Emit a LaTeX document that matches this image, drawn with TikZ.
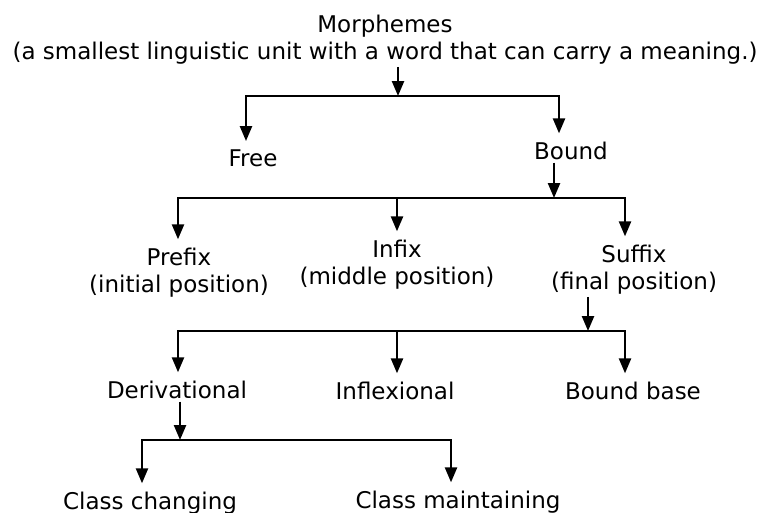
\documentclass[tikz,border=0pt]{standalone}
\usepackage{fontspec}
\setmainfont{DejaVu Sans}
\usetikzlibrary{arrows.meta}

\begin{document}
\begin{tikzpicture}[x=1pt,y=-1pt,line width=2.4pt,
	arr/.style={-{Triangle[length=15pt,width=12pt]}},
	down/.style={arr,shorten >=7pt},
	up/.style={arr,shorten <=2pt},
	lbl/.style={inner sep=0pt,anchor=base,align=center,font=\fontsize{23}{27}\selectfont}
]
	\useasboundingbox (0,0) rectangle (762,512);

	% multi-line labels sit on their last line
	\node[lbl] (morph) at (385,59) {Morphemes\\(a smallest linguistic unit with a word that can carry a meaning.)};
	\node[lbl] (free) at (253,166) {Free};
	\node[lbl] (bound) at (571,159) {Bound};
	\node[lbl] (prefix) at (179,292) {Prefix\\(initial position)};
	\node[lbl] (infix) at (397,284) {Infix\\(middle position)};
	\node[lbl] (suffix) at (634,289) {Suffix\\(final position)};
	\node[lbl] (deriv) at (177,398) {Derivational};
	\node[lbl] (inflex) at (395,399) {Inflexional};
	\node[lbl] (bbase) at (633,399) {Bound base};
	\node[lbl] (change) at (150,509) {Class changing};
	\node[lbl] (keep) at (458,508) {Class maintaining};

	% branch points
	\coordinate (j1) at (398,96);
	\coordinate (j2) at (554,198);
	\coordinate (j3) at (588,331);
	\coordinate (j4) at (180,440);

	\draw[up] (j1 |- morph.south) -- (j1);
	\draw[up] (j2 |- bound.south) -- (j2);
	\draw[up] (j3 |- suffix.south) -- (j3);
	\draw[up] (j4 |- deriv.south) -- (j4);

	\foreach \n/\dx in {free/-7,bound/-12}
		\draw[down] (j1) -| ([xshift=\dx pt]\n.north);
	\foreach \n/\dx in {prefix/-1,infix/0,suffix/-9}
		\draw[down] (j2) -| ([xshift=\dx pt]\n.north);
	\foreach \n/\dx in {deriv/1,inflex/2,bbase/-8}
		\draw[down] (j3) -| ([xshift=\dx pt]\n.north);
	\foreach \n/\dx in {change/-8,keep/-7}
		\draw[down] (j4) -| ([xshift=\dx pt]\n.north);
\end{tikzpicture}
\end{document}
